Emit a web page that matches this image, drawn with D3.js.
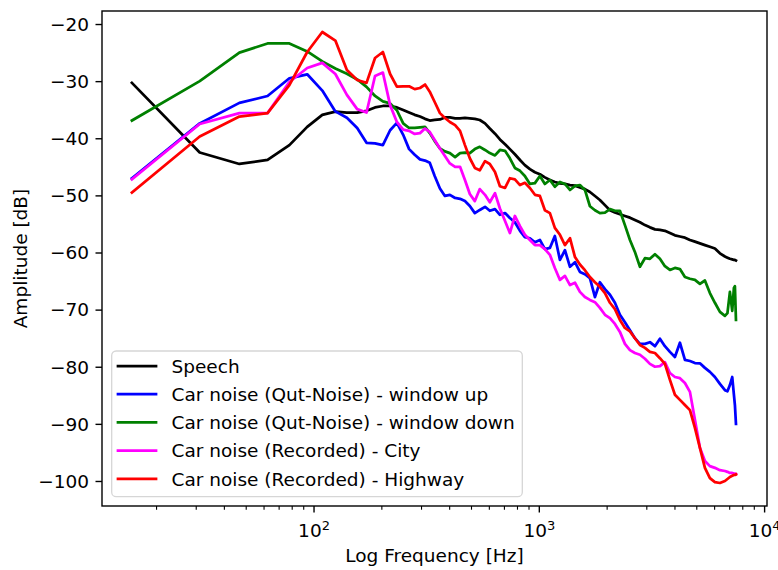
<!DOCTYPE html>
<html>
<head>
<meta charset="utf-8">
<script src="https://cdn.jsdelivr.net/npm/d3@7"></script>
<style>
  html, body { margin: 0; padding: 0; background: #fff; }
  svg { display: block; font-family: "DejaVu Sans", sans-serif; }
</style>
</head>
<body>
<svg id="chart" width="778" height="570"></svg>
<script>
// Welch-style spectra: frequency bins (Hz) shared by all curves
const freqHz = [15.625, 31.25, 46.875, 62.5, 78.125, 93.75, 109.375, 125, 140.625, 156.25,
  171.875, 187.5, 203.125, 218.75, 234.375, 250, 265.625, 281.25, 296.875, 312.5,
  328, 345, 364, 383, 403, 425, 447, 470, 494, 520,
  547, 577, 606, 639, 672, 708, 744, 783, 825, 867,
  913, 961, 1011, 1064, 1120, 1178, 1241, 1306, 1375, 1447,
  1522, 1602, 1686, 1775, 1867, 1966, 2069, 2177, 2291, 2411,
  2538, 2670, 2811, 2958, 3113, 3277, 3448, 3628, 3819, 4019,
  4230, 4452, 4686, 4931, 5189, 5461, 5747, 6048, 6366, 6700,
  6875, 7050, 7220, 7344, 7420, 7500];

// Amplitude (dB) per curve, one value per frequency bin
const speechDb = [-30.3, -42.5, -44.5, -43.8, -41.2, -38.0, -35.9, -35.35, -35.5, -35.5,
  -35.2, -34.6, -34.35, -34.35, -34.6, -35.05, -35.5, -35.9, -36.2, -36.6,
  -36.9, -36.8, -36.7, -36.35, -36.35, -36.5, -36.5, -36.45, -36.5, -36.6,
  -36.8, -37.4, -38.3, -39.2, -40.2, -41.05, -41.9, -42.8, -43.8, -44.7,
  -45.4, -45.95, -46.3, -46.85, -47.3, -47.65, -47.9, -48.0, -48.2, -48.3,
  -48.6, -48.9, -49.4, -50.1, -50.8, -51.7, -52.6, -53.0, -53.3, -53.6,
  -53.9, -54.3, -54.7, -55.2, -55.6, -55.95, -56.05, -56.2, -56.6, -57.0,
  -57.2, -57.4, -57.8, -58.1, -58.4, -58.7, -59.0, -59.3, -60.15, -60.7,
  -60.9, -61.1, -61.2, -61.3, -61.3, -61.4];

const windowUpDb = [-47.0, -37.4, -33.8, -32.6, -29.5, -28.8, -31.65, -35.3, -36.4, -38.2,
  -40.8, -40.9, -41.2, -38.6, -37.3, -39.4, -41.9, -42.9, -43.7, -43.9,
  -44.3, -46.6, -48.8, -50.1, -49.9, -50.45, -50.6, -51.0, -51.85, -53.1,
  -52.55, -52.0, -52.7, -52.4, -53.4, -53.1, -53.95, -54.7, -56.2, -57.3,
  -57.5, -58.2, -57.8, -59.4, -59.2, -57.1, -61.3, -59.6, -62.5, -61.7,
  -63.4, -63.8, -64.5, -67.8, -65.2, -66.4, -67.4, -68.8, -70.9, -72.2,
  -73.6, -75.0, -76.0, -76.0, -75.7, -76.4, -75.1, -76.4, -77.4, -78.3,
  -75.8, -78.8, -79.0, -79.35, -79.4, -80.2, -80.9, -81.8, -83.0, -84.1,
  -84.3, -83.2, -81.8, -84.9, -86.7, -90.0];

const windowDownDb = [-36.9, -30.0, -25.0, -23.4, -23.4, -24.8, -26.55, -27.8, -28.7, -29.7,
  -31.0, -32.6, -33.55, -33.9, -35.1, -37.4, -38.2, -38.2, -38.1, -38.0,
  -39.1, -40.5, -41.8, -42.3, -42.6, -43.3, -42.6, -42.5, -42.6, -41.9,
  -41.5, -42.05, -42.6, -43.0, -42.05, -42.2, -43.5, -45.2, -45.7, -46.6,
  -48.0, -47.85, -46.6, -48.0, -47.3, -48.5, -47.65, -48.0, -49.05, -48.35,
  -48.2, -49.05, -51.9, -52.6, -53.1, -53.0, -52.4, -52.7, -52.7, -55.2,
  -57.8, -59.9, -62.5, -61.0, -61.1, -60.3, -61.1, -62.4, -63.05, -62.7,
  -62.9, -64.3, -64.6, -64.8, -65.5, -64.9, -67.1, -68.8, -70.4, -71.1,
  -70.6, -66.9, -70.2, -66.2, -65.9, -71.8];

const cityDb = [-47.2, -37.5, -35.6, -35.6, -30.15, -27.7, -26.8, -28.75, -32.4, -34.9,
  -35.5, -29.1, -28.5, -34.2, -37.15, -38.5, -38.7, -39.25, -39.1, -38.3,
  -38.9, -40.3, -41.8, -43.1, -44.4, -45.0, -45.0, -47.3, -49.75, -51.0,
  -48.9, -49.9, -51.2, -49.6, -52.3, -54.5, -56.6, -53.6, -55.4, -56.9,
  -57.8, -58.7, -58.7, -59.4, -60.4, -62.7, -64.8, -64.1, -65.7, -65.3,
  -66.9, -67.8, -68.3, -68.7, -69.7, -70.9, -71.5, -72.5, -73.9, -76.0,
  -77.1, -77.6, -77.9, -78.6, -79.5, -80.0, -79.9, -79.2, -81.1, -81.8,
  -82.0, -82.85, -84.4, -89.3, -94.2, -96.5, -97.4, -97.7, -98.1, -98.25,
  -98.4, -98.6, -98.6, -98.7, -98.7, -98.8];

const highwayDb = [-49.5, -39.7, -36.2, -35.6, -30.7, -24.9, -21.4, -22.9, -28.05, -29.8,
  -30.3, -25.95, -24.9, -28.75, -30.95, -30.9, -30.9, -31.4, -31.2, -30.6,
  -31.85, -33.65, -35.6, -36.45, -37.15, -37.7, -38.7, -41.2, -43.5, -45.2,
  -45.6, -44.0, -44.5, -45.9, -48.4, -48.7, -47.0, -47.2, -48.2, -47.8,
  -48.7, -49.9, -50.1, -52.6, -53.1, -55.7, -56.9, -58.7, -57.5, -60.8,
  -62.1, -63.1, -64.3, -65.2, -66.0, -67.1, -68.8, -69.9, -71.8, -73.2,
  -73.8, -75.0, -76.2, -76.7, -77.4, -77.6, -78.5, -79.5, -82.3, -84.9,
  -85.8, -86.7, -87.6, -90.7, -94.2, -97.7, -99.5, -100.2, -100.35, -100.0,
  -99.65, -99.3, -99.1, -98.95, -98.95, -98.85];

const seriesLabels = ["Speech", "Car noise (Qut-Noise) - window up", "Car noise (Qut-Noise) - window down",
  "Car noise (Recorded) - City", "Car noise (Recorded) - Highway"];
const seriesValues = [speechDb, windowUpDb, windowDownDb, cityDb, highwayDb];

const yTicks = [-100, -90, -80, -70, -60, -50, -40, -30, -20];
const xMajorTicks = [100, 1000, 10000];
const xMinorTicks = [20, 30, 40, 50, 60, 70, 80, 90, 200, 300, 400, 500, 600, 700, 800, 900,
  2000, 3000, 4000, 5000, 6000, 7000, 8000, 9000];

// ---- styling and layout ----
const colors = ["#000000", "#0000ff", "#008000", "#ff00ff", "#ff0000"];
const plot = { left: 102, right: 767, top: 11, bottom: 506 };
const fontSize = 18.5;

const svg = d3.select("#chart");

const x = d3.scaleLog().domain([11.51, 10300]).range([plot.left, plot.right]);
const y = d3.scaleLinear().domain([-104.38, -17.72]).range([plot.bottom, plot.top]);

// Curves
const line = d3.line()
  .x(d => x(d[0]))
  .y(d => y(d[1]));

const curves = svg.append("g").attr("class", "curves");
seriesValues.forEach((vals, i) => {
  curves.append("path")
    .datum(freqHz.map((f, j) => [f, vals[j]]))
    .attr("d", line)
    .attr("fill", "none")
    .attr("stroke", colors[i])
    .attr("stroke-width", 2.75)
    .attr("stroke-linejoin", "round")
    .attr("stroke-linecap", "square");
});

// Axes frame
svg.append("rect")
  .attr("x", plot.left).attr("y", plot.top)
  .attr("width", plot.right - plot.left).attr("height", plot.bottom - plot.top)
  .attr("fill", "none").attr("stroke", "#000").attr("stroke-width", 1.4);

// Bottom axis: minor ticks
const xMinor = svg.append("g")
  .attr("transform", `translate(0,${plot.bottom})`)
  .call(d3.axisBottom(x).tickValues(xMinorTicks).tickSize(3.7).tickFormat(""));
xMinor.select(".domain").remove();
xMinor.selectAll(".tick line").attr("stroke", "#000").attr("stroke-width", 1.1);

// Bottom axis: major ticks with power-of-ten labels
const xMajor = svg.append("g")
  .attr("transform", `translate(0,${plot.bottom})`)
  .call(d3.axisBottom(x).tickValues(xMajorTicks).tickSize(6.5).tickPadding(6.5)
    .tickFormat(d => String(Math.round(Math.log10(d)))));
xMajor.select(".domain").remove();
xMajor.selectAll(".tick line").attr("stroke", "#000").attr("stroke-width", 1.4);
xMajor.selectAll(".tick text").each(function () {
  const t = d3.select(this);
  const exp = t.text();
  t.text("")
    .attr("dy", null)
    .attr("y", 31)
    .attr("fill", "#000")
    .style("font-size", fontSize + "px")
    .style("font-family", "DejaVu Sans");
  t.append("tspan").text("10");
  t.append("tspan").text(exp).style("font-size", "13px").attr("dy", -7.5);
});

// Left axis
const yAxis = svg.append("g")
  .attr("transform", `translate(${plot.left},0)`)
  .call(d3.axisLeft(y).tickValues(yTicks).tickSize(6.5).tickPadding(6.5).tickFormat(d3.format("d")));
yAxis.select(".domain").remove();
yAxis.selectAll(".tick line").attr("stroke", "#000").attr("stroke-width", 1.4);
yAxis.selectAll(".tick text")
  .attr("fill", "#000")
  .attr("dy", "0.34em")
  .style("font-size", fontSize + "px")
  .style("font-family", "DejaVu Sans");

// Axis titles
svg.append("text")
  .attr("x", (plot.left + plot.right) / 2)
  .attr("y", 562)
  .attr("text-anchor", "middle")
  .style("font-size", fontSize + "px")
  .text("Log Frequency [Hz]");

svg.append("text")
  .attr("transform", `translate(27,${(plot.top + plot.bottom) / 2}) rotate(-90)`)
  .attr("text-anchor", "middle")
  .style("font-size", fontSize + "px")
  .text("Amplitude [dB]");

// Legend
const legend = svg.append("g").attr("class", "legend");
legend.append("rect")
  .attr("x", 111.7).attr("y", 351)
  .attr("width", 410.6).attr("height", 145.7)
  .attr("rx", 4.5).attr("ry", 4.5)
  .attr("fill", "#ffffff").attr("fill-opacity", 0.8)
  .attr("stroke", "#d6d6d6").attr("stroke-width", 1.3);

seriesLabels.forEach((label, i) => {
  const rowY = 366 + i * 28.2;
  legend.append("line")
    .attr("x1", 118).attr("x2", 156)
    .attr("y1", rowY).attr("y2", rowY)
    .attr("stroke", colors[i])
    .attr("stroke-width", 2.75)
    .attr("stroke-linecap", "square");
  legend.append("text")
    .attr("x", 171.5)
    .attr("y", rowY + 6.8)
    .style("font-size", fontSize + "px")
    .attr("fill", "#000")
    .text(label);
});
</script>
</body>
</html>
